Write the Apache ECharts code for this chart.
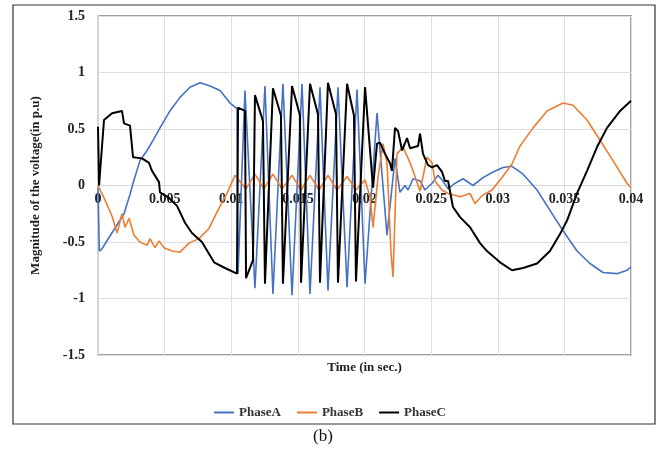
<!DOCTYPE html>
<html lang="en">
<head>
  <meta charset="UTF-8">
  <title>phase_voltage</title>
  <script src="https://cdn.jsdelivr.net/npm/echarts@6/dist/echarts.min.js"></script>
  <style>
    *{
      margin:0;
      padding:0;
    }
    body{
      width:660px;
      height:452px;
      background:#fff;
    }
    .container{
      width:660px;
      height:452px;
    }
  </style>
</head>
<body>
  <div class="container"></div>

  <script type="text/javascript">
    // time (s), magnitude (p.u)
    var phaseA = [
      [0, -0.02], [0.0001, -0.58], [0.0003, -0.56], [0.00195, -0.25], [0.0024, -0.08],
      [0.00263, 0.02], [0.00315, 0.22], [0.00368, 0.31], [0.00413, 0.4], [0.00465, 0.51],
      [0.0054, 0.66], [0.00615, 0.78], [0.0069, 0.87], [0.00766, 0.91], [0.00841, 0.88],
      [0.00916, 0.84], [0.00991, 0.73], [0.01043, 0.68],
      [0.01051, -0.78], [0.01103, 0.84], [0.01178, -0.91], [0.01253, 0.88], [0.01313, -0.96],
      [0.01388, 0.9], [0.01456, -0.97], [0.01531, 0.9], [0.01591, -0.96], [0.01666, 0.87],
      [0.01726, -0.93], [0.01801, 0.87], [0.01869, -0.9], [0.01944, 0.85], [0.02004, -0.87],
      [0.02094, 0.64], [0.02169, -0.44], [0.02229, 0.24], [0.02266, -0.06], [0.02304, 0.0],
      [0.02327, -0.04], [0.02364, 0.06], [0.02417, 0.04], [0.02454, -0.04], [0.02507, 0.02],
      [0.02552, 0.09], [0.02589, 0.04], [0.02627, -0.03], [0.0268, 0.02], [0.0274, 0.06],
      [0.02814, 0.0], [0.02889, 0.07], [0.02965, 0.12], [0.0304, 0.16], [0.03107, 0.17],
      [0.0319, 0.1], [0.03295, -0.04], [0.03392, -0.22], [0.0349, -0.4], [0.03595, -0.58],
      [0.03692, -0.69], [0.0379, -0.77], [0.03895, -0.78], [0.0397, -0.75], [0.04, -0.72]
    ]
    var phaseB = [
      [0, 0], [0.00053, -0.13], [0.00105, -0.27], [0.00143, -0.42], [0.0018, -0.25],
      [0.00203, -0.37], [0.00233, -0.29], [0.0027, -0.44], [0.00315, -0.5], [0.00368, -0.53],
      [0.0039, -0.47], [0.00428, -0.55], [0.00458, -0.49], [0.00495, -0.55], [0.00555, -0.58],
      [0.00615, -0.59], [0.00683, -0.51], [0.00758, -0.47], [0.00833, -0.38], [0.00908, -0.2],
      [0.00968, -0.07], [0.01028, 0.09],
      [0.01043, 0.1], [0.01111, -0.03], [0.01178, 0.1], [0.01245, -0.03], [0.01313, 0.1],
      [0.01381, -0.03], [0.01456, 0.09], [0.01524, -0.04], [0.01591, 0.09], [0.01659, -0.04],
      [0.01726, 0.09], [0.01794, -0.04], [0.01869, 0.08], [0.01936, -0.04], [0.02004, 0.05],
      [0.02041, -0.1], [0.02064, -0.37], [0.02101, 0.07], [0.02139, 0.37], [0.02169, 0.2],
      [0.02199, -0.6], [0.02214, -0.81], [0.02244, 0.28], [0.02289, 0.34], [0.02342, 0.2],
      [0.02364, 0.13], [0.02417, -0.05], [0.02469, 0.25], [0.02507, 0.2], [0.02529, 0.04],
      [0.02582, -0.04], [0.02627, -0.07], [0.02717, -0.1], [0.02792, -0.07], [0.02829, -0.16],
      [0.02882, -0.09], [0.02957, -0.04], [0.03032, 0.07], [0.03107, 0.19], [0.03167, 0.35],
      [0.03265, 0.51], [0.0337, 0.66], [0.0349, 0.73], [0.03565, 0.71], [0.0367, 0.58],
      [0.03768, 0.4], [0.03865, 0.22], [0.0397, 0.02], [0.04, -0.02]
    ]
    var phaseC = [
      [0, 0.52], [0.00008, 0.0], [0.00045, 0.58], [0.00105, 0.64], [0.0018, 0.66],
      [0.00195, 0.55], [0.0024, 0.53], [0.00263, 0.25], [0.0033, 0.24], [0.00383, 0.2],
      [0.00405, 0.13], [0.00458, 0.03], [0.00465, -0.06], [0.00533, -0.11], [0.00593, -0.18],
      [0.00653, -0.33], [0.00705, -0.42], [0.0078, -0.5], [0.00871, -0.68], [0.00953, -0.73],
      [0.01043, -0.78],
      [0.01051, 0.69], [0.01103, 0.66], [0.01111, -0.82], [0.01163, -0.66], [0.01178, 0.8],
      [0.01238, 0.57], [0.01253, -0.87], [0.01313, 0.86], [0.01373, 0.62], [0.01388, -0.87],
      [0.01456, 0.88], [0.01516, 0.62], [0.01524, -0.86], [0.01591, 0.9], [0.01651, 0.63],
      [0.01666, -0.86], [0.01726, 0.91], [0.01786, 0.63], [0.01801, -0.86], [0.01869, 0.9],
      [0.01921, 0.62], [0.01936, -0.85], [0.02004, 0.87], [0.02064, -0.02],
      [0.02094, 0.37], [0.02116, 0.38], [0.02154, 0.28], [0.02191, 0.2], [0.02206, 0.13],
      [0.02229, 0.51], [0.02252, 0.48], [0.02282, 0.31], [0.02319, 0.42], [0.02342, 0.33],
      [0.02402, 0.35], [0.02417, 0.46], [0.02439, 0.28], [0.02477, 0.18], [0.02507, 0.16],
      [0.02544, 0.18], [0.02582, 0.12], [0.02604, 0.04], [0.02627, 0.04], [0.02664, -0.19],
      [0.02717, -0.28], [0.02792, -0.37], [0.02867, -0.51], [0.02919, -0.58], [0.03017, -0.68],
      [0.03107, -0.75], [0.0319, -0.73], [0.03295, -0.69], [0.03392, -0.58], [0.03467, -0.43],
      [0.0352, -0.31], [0.03595, -0.07], [0.0367, 0.13], [0.03745, 0.34], [0.0382, 0.51],
      [0.03918, 0.66], [0.04, 0.75]
    ]
    var seriesNames = ['PhaseA', 'PhaseB', 'PhaseC']
    var seriesColors = ['#4472c4', '#ed7d31', '#000000']

    const font = '"Liberation Serif", "Times New Roman", serif'
    const mCharts = echarts.init(document.querySelector('.container'))

    // plot area: top 16, bottom at 355 -> the zero line sits half way
    const gridTop = 16, gridBottom = 97, plotH = 452 - gridTop - gridBottom

    var option = {
      animation: false,
      textStyle: { fontFamily: font },
      graphic: [
        {
          type: 'rect',
          shape: { x: 13, y: 5, width: 642, height: 419 },
          style: { fill: 'none', stroke: '#333', lineWidth: 1.2 },
          silent: true
        },
        {
          type: 'text',
          left: 313,
          top: 428,
          style: { text: '(b)', font: '17px "Liberation Serif", serif', fill: '#111' }
        }
      ],
      grid: {
        left: 98,
        right: 29,
        top: gridTop,
        bottom: gridBottom,
        show: true,
        borderColor: '#a0a0a0',
        borderWidth: 2
      },
      legend: {
        top: 401,
        left: 'center',
        icon: 'rect',
        itemWidth: 20,
        itemHeight: 2,
        itemGap: 16,
        data: seriesNames,
        textStyle: { fontFamily: font, fontWeight: 'bold', fontSize: 13, color: '#333' }
      },
      xAxis: [
        {
          // tick labels ride on the zero line, like the Excel original
          type: 'value',
          min: 0,
          max: 0.04,
          interval: 0.005,
          position: 'bottom',
          offset: -plotH / 2,
          axisLine: { onZero: false, lineStyle: { color: '#d9d9d9', width: 1 } },
          axisTick: { show: false },
          axisLabel: { margin: 7, fontFamily: font, fontWeight: 'bold', fontSize: 14, color: '#222' },
          splitLine: { show: true, lineStyle: { color: '#dedede' } }
        },
        {
          type: 'value',
          min: 0,
          max: 0.04,
          position: 'bottom',
          axisLine: { show: false, onZero: false },
          axisTick: { show: false },
          axisLabel: { show: false },
          splitLine: { show: false },
          name: 'Time (in sec.)',
          nameLocation: 'middle',
          nameGap: 6,
          nameTextStyle: { fontFamily: font, fontWeight: 'bold', fontSize: 13, color: '#222' }
        }
      ],
      yAxis: {
        type: 'value',
        min: -1.5,
        max: 1.5,
        interval: 0.5,
        axisLine: { show: true, onZero: false, lineStyle: { color: '#d4d4d4', width: 2 } },
        axisTick: { show: false },
        axisLabel: { margin: 13, fontFamily: font, fontWeight: 'bold', fontSize: 14, color: '#222' },
        splitLine: { show: true, lineStyle: { color: '#dedede' } },
        name: 'Magnitude of the voltage(in p.u)',
        nameLocation: 'middle',
        nameGap: 56,
        nameTextStyle: { fontFamily: font, fontWeight: 'bold', fontSize: 13, color: '#222' }
      },
      series: [phaseA, phaseB, phaseC].map(function (d, i) {
        return {
          name: seriesNames[i],
          type: 'line',
          data: d,
          showSymbol: false,
          color: seriesColors[i],
          lineStyle: { width: i === 2 ? 2 : 1.6, color: seriesColors[i] }
        }
      })
    }
    mCharts.setOption(option)
  </script>
</body>
</html>
